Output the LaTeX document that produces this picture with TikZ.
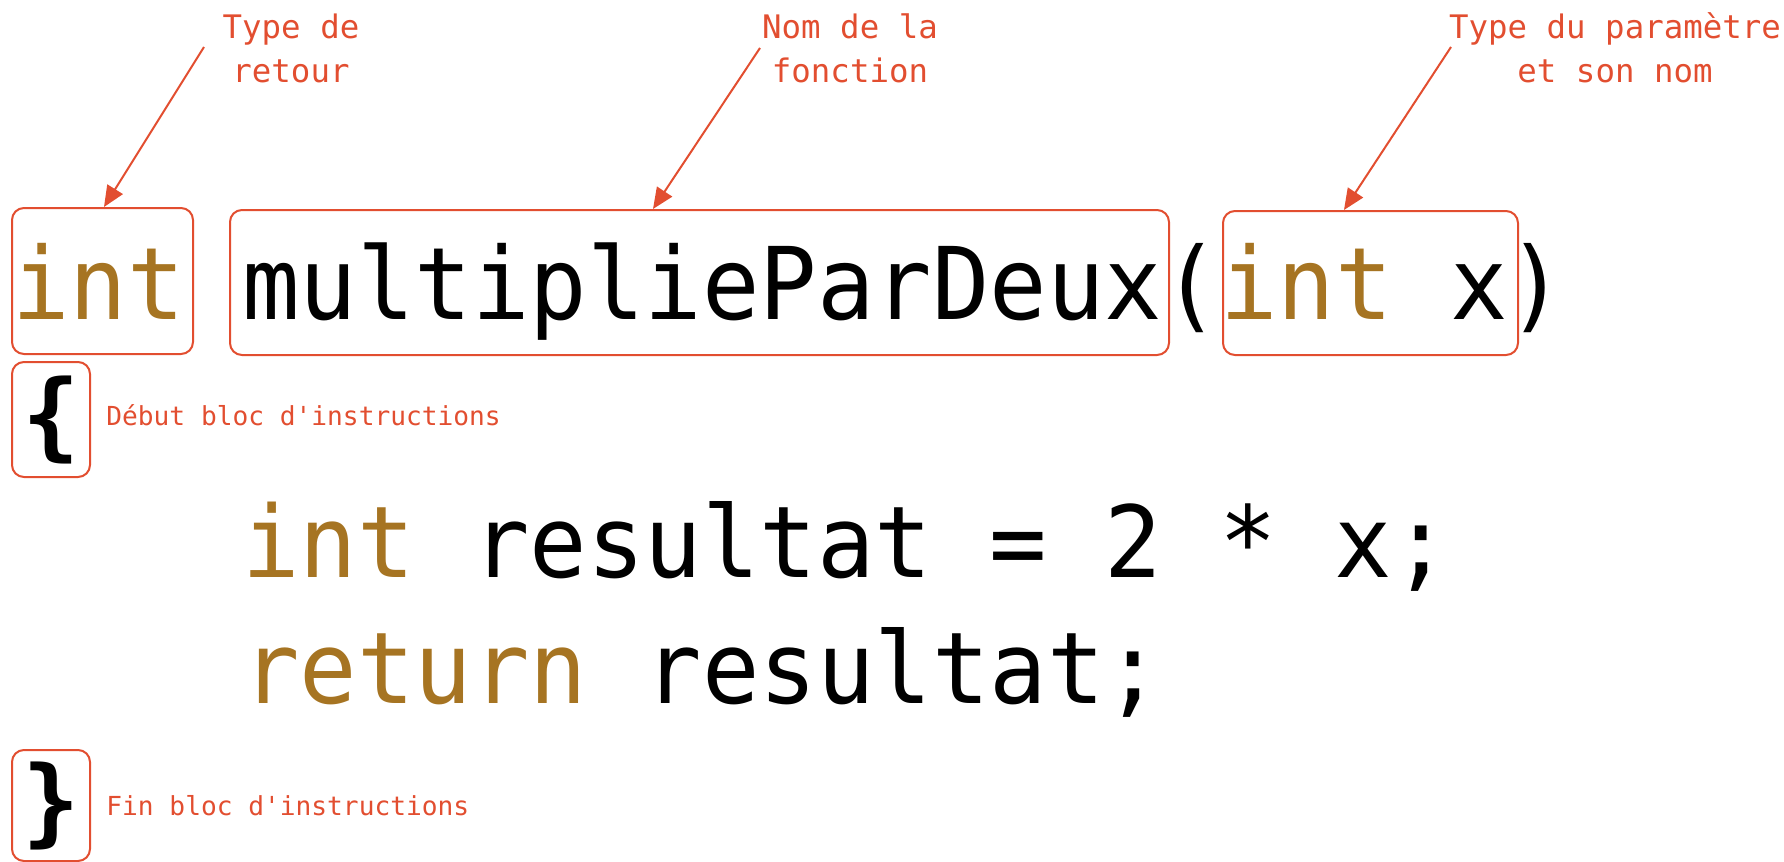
\documentclass[tikz,border=0pt]{standalone}
\usepackage{fontspec}
\newfontfamily\codefont{DejaVu Sans Mono}
\usetikzlibrary{arrows.meta,calc}
\definecolor{ann}{RGB}{226,78,48}
\definecolor{kw}{RGB}{166,116,34}
\begin{document}
\begin{tikzpicture}[x=0.5pt,y=-0.5pt,
  box/.style={draw=ann, line width=1pt, rounded corners=6pt, inner sep=0pt, rectangle},
  codetxt/.style={font=\codefont\fontsize{47.76}{50}\selectfont, inner sep=0pt, anchor=base west, text=black},
  toplbl/.style={font=\codefont\fontsize{16.2}{21.5}\selectfont, text=ann, align=center, anchor=base, inner sep=0pt},
  sidelbl/.style={font=\codefont\fontsize{13.1}{16}\selectfont, text=ann, anchor=base west, inner sep=0pt},
  arr/.style={draw=ann, line width=1pt, -{Triangle[length=10.5pt,width=9pt]}}]
\useasboundingbox (0,0) rectangle (1784,862);
% boxes
\node[box, minimum width=90.5pt, minimum height=73pt] (rt) at (102.5,281) {};
\node[box, minimum width=469.5pt, minimum height=72.5pt] (fn) at (699.5,282.5) {};
\node[box, minimum width=147.5pt, minimum height=72pt] (par) at (1370.5,283) {};
\node[box, codetxt, anchor=center, minimum width=39pt, minimum height=57.5pt] (ob) at (51,419.5) {\bfseries\{};
\node[box, codetxt, anchor=center, minimum width=39pt, minimum height=55.5pt] (cb) at (51,805.5) {\bfseries\}};
% code
\node[codetxt] (l1) at (12,319) {\scalebox{1}[1.05]{{\color{kw}int} multiplieParDeux({\color{kw}int} x)}};
\node[codetxt] (l3) at (242,577) {\scalebox{1}[1.04]{{\color{kw}int} resultat = 2 * x;}};
\node[codetxt] (l4) at (242,703) {\scalebox{1}[1.04]{{\color{kw}return} resultat;}};
% labels
\node[toplbl] (lab1) at (291,82) {Type de\\retour};
\node[toplbl] (lab2) at (850,82) {Nom de la\\fonction};
\node[toplbl] (lab3) at (1615,82) {Type du paramètre\\et son nom};
\node[sidelbl] (d1) at (106,425) {Début bloc d\textquotesingle instructions};
\node[sidelbl] (d2) at (106,815) {Fin bloc d\textquotesingle instructions};
% arrows
\coordinate (s1) at (204,47);
\coordinate (s2) at (760,48);
\coordinate (s3) at (1451,47);
\draw[arr] (s1) -- ($(rt.north west)+(93,0)$);
\draw[arr] (s2) -- ($(fn.north west)+(424,0)$);
\draw[arr] (s3) -- ($(par.north west)+(122,0)$);
\end{tikzpicture}
\end{document}
